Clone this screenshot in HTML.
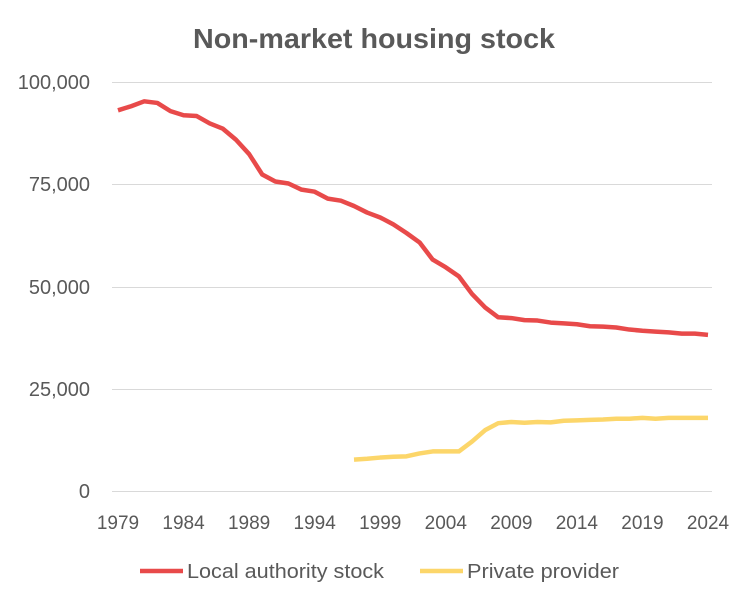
<!DOCTYPE html>
<html><head><meta charset="utf-8"><style>
body{margin:0;background:#fff;}
svg{display:block;font-family:"Liberation Sans",sans-serif;}
</style></head><body>
<svg id="c" width="751" height="603" viewBox="0 0 751 603">
<rect width="751" height="603" fill="#fff"/>
<text x="374" y="48" text-anchor="middle" font-size="28" font-weight="bold" fill="#595959" textLength="362" lengthAdjust="spacingAndGlyphs">Non-market housing stock</text>
<g stroke="#d9d9d9" stroke-width="1">
<line x1="112" x2="712" y1="82.5" y2="82.5"/>
<line x1="112" x2="712" y1="184.5" y2="184.5"/>
<line x1="112" x2="712" y1="287.5" y2="287.5"/>
<line x1="112" x2="712" y1="389.5" y2="389.5"/>
<line x1="112" x2="712" y1="491.5" y2="491.5"/>
</g>
<g font-size="20" fill="#595959" text-anchor="end">
<text x="90" y="89">100,000</text>
<text x="90" y="191">75,000</text>
<text x="90" y="294">50,000</text>
<text x="90" y="396">25,000</text>
<text x="90" y="498">0</text>
</g>
<g font-size="19" fill="#595959" text-anchor="middle" id="xl"></g>
<polyline id="r" fill="none" stroke="#e84a4a" stroke-width="4.5" stroke-linejoin="round"/>
<polyline id="y" fill="none" stroke="#fcd66a" stroke-width="4.5" stroke-linejoin="round"/>
<line x1="140" x2="183" y1="571" y2="571" stroke="#e84a4a" stroke-width="4.5"/>
<text x="187" y="578" font-size="20" fill="#595959" textLength="197" lengthAdjust="spacingAndGlyphs">Local authority stock</text>
<line x1="420" x2="463" y1="571" y2="571" stroke="#fcd66a" stroke-width="4.5"/>
<text x="467" y="578" font-size="20" fill="#595959" textLength="152" lengthAdjust="spacingAndGlyphs">Private provider</text>
</svg>
<script>
var R=[93200,94200,95400,95000,93000,92000,91800,90000,88700,86000,82500,77500,75800,75300,73800,73300,71600,71100,69800,68200,67000,65300,63200,60900,56700,54800,52600,48300,45000,42600,42400,41900,41800,41300,41100,40900,40400,40300,40100,39600,39300,39100,38900,38600,38600,38300];
var Y=[7800,8000,8300,8500,8600,9300,9800,9800,9800,12200,15000,16700,17000,16800,17000,16900,17300,17400,17500,17600,17800,17800,18000,17800,18000,18000,18000,18000];
function px(yr){return 118+(yr-1979)*590/45;}
function py(v){return 491.5-v*409/100000;}
document.getElementById('r').setAttribute('points',R.map(function(v,i){return px(1979+i)+','+py(v)}).join(' '));
document.getElementById('y').setAttribute('points',Y.map(function(v,i){return px(1997+i)+','+py(v)}).join(' '));
var g=document.getElementById('xl'),s='';
for(var yr=1979;yr<=2024;yr+=5)s+='<text x="'+px(yr)+'" y="529">'+yr+'</text>';
g.innerHTML=s;
</script>
</body></html>
